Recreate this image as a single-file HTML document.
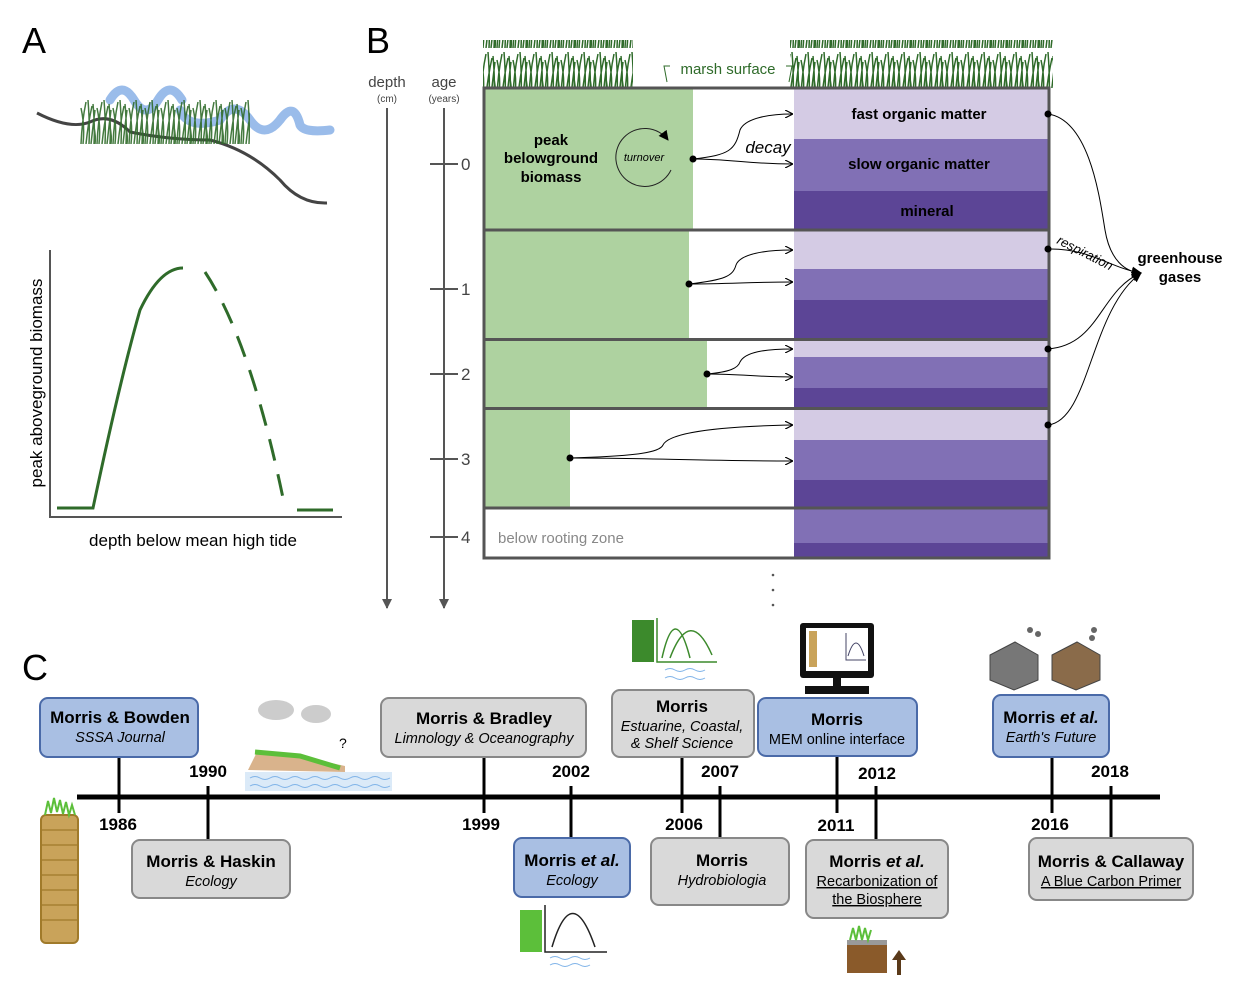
<!DOCTYPE html>
<html><head><meta charset="utf-8"><style>
html,body{margin:0;padding:0;background:#fff}
svg{display:block;font-family:"Liberation Sans",Arial,sans-serif}
</style></head><body>
<svg width="1237" height="988" viewBox="0 0 1237 988" xmlns="http://www.w3.org/2000/svg">
<defs>
<marker id="ah" markerWidth="8" markerHeight="8" refX="7" refY="4" orient="auto" markerUnits="userSpaceOnUse"><path d="M0,0 L8,4 L0,8" fill="none" stroke="#000" stroke-width="1.2"/></marker>
<marker id="ahf" markerWidth="10" markerHeight="10" refX="9" refY="5" orient="auto" markerUnits="userSpaceOnUse"><path d="M0,0 L10,5 L0,10 z" fill="#000"/></marker>
<marker id="ahg" markerWidth="10" markerHeight="10" refX="9" refY="5" orient="auto" markerUnits="userSpaceOnUse"><path d="M0,0 L10,5 L0,10 z" fill="#555"/></marker>
<pattern id="grass" width="16" height="48" patternUnits="userSpaceOnUse"><path d="M1,48 Q2,25 6,6 M3,48 Q5,30 1,12 M6,48 Q8,28 12,10 M9,48 Q10,30 8,4 M11,48 Q13,30 15,14 M14,48 Q15,30 13,8 M15,48 Q16,35 19,18" stroke="#2f6b2a" stroke-width="1.5" fill="none"/></pattern>
</defs>

<!-- Panel A -->
<text x="22" y="53" font-size="36">A</text>
<path d="M110,100 q12,-20 24,0 t24,0 t24,0 M180,110 q8,20 40,10 q14,-22 30,0 q14,20 30,0 q14,-20 20,5 q4,8 30,5" stroke="#8fb5e8" stroke-width="9" fill="none" stroke-linecap="round" opacity="0.9"/>
<path d="M37,113 Q70,130 90,122 Q110,112 130,132 Q170,140 210,140 Q250,150 280,180 Q300,204 327,203" stroke="#444" stroke-width="3" fill="none"/>
<rect x="80" y="97" width="170" height="48" fill="url(#grass)" opacity="0.9"/>
<path d="M50,250 L50,517 L342,517" stroke="#555" stroke-width="2" fill="none"/>
<path d="M57,508 L93,508 Q120,380 140,310 Q160,268 183,268" stroke="#2f6b2a" stroke-width="3" fill="none"/>
<path d="M205,272 Q250,340 283,498" stroke="#2f6b2a" stroke-width="3" fill="none" stroke-dasharray="22,14"/>
<path d="M297,510 L333,510" stroke="#2f6b2a" stroke-width="3"/>
<text transform="translate(42,383) rotate(-90)" font-size="17" text-anchor="middle">peak aboveground biomass</text>
<text x="193" y="546" font-size="17" text-anchor="middle">depth below mean high tide</text>

<!-- Panel B -->
<text x="366" y="53" font-size="36">B</text>
<text x="387" y="87" font-size="15" text-anchor="middle" fill="#444">depth</text>
<text x="387" y="102" font-size="10" text-anchor="middle" fill="#444">(cm)</text>
<text x="444" y="87" font-size="15" text-anchor="middle" fill="#444">age</text>
<text x="444" y="102" font-size="10" text-anchor="middle" fill="#444">(years)</text>
<line x1="387" y1="108" x2="387" y2="608" stroke="#555" stroke-width="2" marker-end="url(#ahg)"/>
<line x1="444" y1="108" x2="444" y2="608" stroke="#555" stroke-width="2" marker-end="url(#ahg)"/>
<g stroke="#555" stroke-width="2">
<line x1="430" y1="164" x2="458" y2="164"/><line x1="430" y1="289" x2="458" y2="289"/><line x1="430" y1="374" x2="458" y2="374"/><line x1="430" y1="459" x2="458" y2="459"/><line x1="430" y1="537" x2="458" y2="537"/>
</g>
<g font-size="17" fill="#444"><text x="461" y="170">0</text><text x="461" y="295">1</text><text x="461" y="380">2</text><text x="461" y="465">3</text><text x="461" y="543">4</text></g>

<rect x="483" y="40" width="150" height="48" fill="url(#grass)"/>
<rect x="790" y="40" width="263" height="48" fill="url(#grass)"/>
<text x="728" y="74" font-size="15" fill="#2f6b2a" text-anchor="middle">marsh surface</text>
<path d="M670,66 L664,66 L667,82 M786,66 L792,66 L789,82" stroke="#2f6b2a" fill="none"/>

<!-- rows -->
<rect x="483" y="87" width="567" height="472" fill="#fff"/>
<rect x="485" y="89" width="208" height="140" fill="#aed2a0"/>
<rect x="794" y="89" width="254" height="50" fill="#d4cbe4"/>
<rect x="794" y="139" width="254" height="52" fill="#8170b5"/>
<rect x="794" y="191" width="254" height="39" fill="#5c4596"/>
<rect x="485" y="231" width="204" height="107" fill="#aed2a0"/>
<rect x="794" y="231" width="254" height="38" fill="#d4cbe4"/>
<rect x="794" y="269" width="254" height="31" fill="#8170b5"/>
<rect x="794" y="300" width="254" height="38" fill="#5c4596"/>
<rect x="485" y="341" width="222" height="66" fill="#aed2a0"/>
<rect x="794" y="341" width="254" height="16" fill="#d4cbe4"/>
<rect x="794" y="357" width="254" height="31" fill="#8170b5"/>
<rect x="794" y="388" width="254" height="19" fill="#5c4596"/>
<rect x="485" y="410" width="85" height="97" fill="#aed2a0"/>
<rect x="794" y="410" width="254" height="30" fill="#d4cbe4"/>
<rect x="794" y="440" width="254" height="40" fill="#8170b5"/>
<rect x="794" y="480" width="254" height="27" fill="#5c4596"/>
<rect x="794" y="509" width="254" height="34" fill="#8170b5"/>
<rect x="794" y="543" width="254" height="15" fill="#5c4596"/>
<g stroke="#555" stroke-width="3" fill="none">
<rect x="484" y="88" width="565" height="470"/>
<line x1="484" y1="230" x2="1049" y2="230"/>
<line x1="484" y1="339.5" x2="1049" y2="339.5"/>
<line x1="484" y1="408.5" x2="1049" y2="408.5"/>
<line x1="484" y1="508" x2="1049" y2="508"/>
</g>
<g font-weight="bold" font-size="15" text-anchor="middle">
<text x="551" y="145">peak</text><text x="551" y="163">belowground</text><text x="551" y="182">biomass</text>
<text x="919" y="119">fast organic matter</text>
<text x="919" y="169">slow organic matter</text>
<text x="927" y="216">mineral</text>
</g>
<text x="644" y="161" font-size="11" font-style="italic" text-anchor="middle">turnover</text>
<path d="M671,170 A29,29 0 1 1 668,140" stroke="#222" fill="none" marker-end="url(#ahf)"/>
<text x="768" y="153" font-size="17" font-style="italic" text-anchor="middle">decay</text>
<text x="498" y="543" font-size="15" fill="#888">below rooting zone</text>
<g fill="#555"><circle cx="773" cy="575" r="1.3"/><circle cx="773" cy="590" r="1.3"/><circle cx="773" cy="605" r="1.3"/></g>

<g stroke="#000" stroke-width="1" fill="none">
<path d="M693,159 C730,155 735,150 740,130 C745,118 770,114 792,114" marker-end="url(#ah)"/>
<path d="M693,159 C730,159 750,164 792,164" marker-end="url(#ah)"/>
<path d="M689,284 C725,280 733,276 736,265 C740,254 765,250 792,250" marker-end="url(#ah)"/>
<path d="M689,284 C730,284 750,282 792,282" marker-end="url(#ah)"/>
<path d="M707,374 C730,372 738,368 740,362 C745,352 765,349 792,349" marker-end="url(#ah)"/>
<path d="M707,374 C740,374 760,377 792,377" marker-end="url(#ah)"/>
<path d="M570,458 C640,456 660,452 663,445 C670,430 740,426 792,425" marker-end="url(#ah)"/>
<path d="M570,458 C650,458 700,461 792,461" marker-end="url(#ah)"/>
<path d="M1048,114 C1090,120 1100,200 1105,230 C1110,260 1125,272 1141,273" marker-end="url(#ahf)"/>
<path d="M1048,249 C1090,248 1110,268 1141,273" marker-end="url(#ahf)"/>
<path d="M1048,349 C1100,345 1100,290 1141,273" marker-end="url(#ahf)"/>
<path d="M1048,425 C1090,420 1090,310 1141,273" marker-end="url(#ahf)"/>
</g>
<g fill="#000">
<circle cx="693" cy="159" r="3.5"/><circle cx="689" cy="284" r="3.5"/><circle cx="707" cy="374" r="3.5"/><circle cx="570" cy="458" r="3.5"/>
<circle cx="1048" cy="114" r="3.5"/><circle cx="1048" cy="249" r="3.5"/><circle cx="1048" cy="349" r="3.5"/><circle cx="1048" cy="425" r="3.5"/>
</g>
<text transform="translate(1056,243) rotate(27)" font-size="13" font-style="italic">respiration</text>
<text x="1180" y="263" font-size="15" font-weight="bold" text-anchor="middle">greenhouse</text>
<text x="1180" y="282" font-size="15" font-weight="bold" text-anchor="middle">gases</text>

<!-- Panel C -->
<text x="22" y="680" font-size="36">C</text>
<line x1="77" y1="797" x2="1160" y2="797" stroke="#000" stroke-width="5"/>
<g stroke="#000" stroke-width="3">
<line x1="119" y1="757" x2="119" y2="813"/><line x1="208" y1="786" x2="208" y2="840"/>
<line x1="484" y1="757" x2="484" y2="813"/><line x1="571" y1="786" x2="571" y2="838"/>
<line x1="682" y1="757" x2="682" y2="813"/><line x1="720" y1="786" x2="720" y2="838"/>
<line x1="837" y1="756" x2="837" y2="813"/><line x1="876" y1="786" x2="876" y2="840"/>
<line x1="1052" y1="757" x2="1052" y2="813"/><line x1="1111" y1="786" x2="1111" y2="838"/>
</g>
<g font-weight="bold" font-size="17" text-anchor="middle">
<text x="118" y="830">1986</text><text x="208" y="777">1990</text><text x="481" y="830">1999</text>
<text x="571" y="777">2002</text><text x="684" y="830">2006</text><text x="720" y="777">2007</text>
<text x="836" y="831">2011</text><text x="877" y="779">2012</text><text x="1050" y="830">2016</text><text x="1110" y="777">2018</text>
</g>
<g stroke-width="2">
<rect x="40" y="698" width="158" height="59" rx="8" fill="#a9bfe3" stroke="#4a6aa8"/>
<rect x="132" y="840" width="158" height="58" rx="8" fill="#d9d9d9" stroke="#888"/>
<rect x="381" y="698" width="205" height="59" rx="8" fill="#d9d9d9" stroke="#888"/>
<rect x="514" y="838" width="116" height="59" rx="8" fill="#a9bfe3" stroke="#4a6aa8"/>
<rect x="612" y="690" width="142" height="67" rx="8" fill="#d9d9d9" stroke="#888"/>
<rect x="651" y="838" width="138" height="67" rx="8" fill="#d9d9d9" stroke="#888"/>
<rect x="758" y="698" width="159" height="58" rx="8" fill="#a9bfe3" stroke="#4a6aa8"/>
<rect x="806" y="840" width="142" height="78" rx="8" fill="#d9d9d9" stroke="#888"/>
<rect x="993" y="695" width="116" height="62" rx="8" fill="#a9bfe3" stroke="#4a6aa8"/>
<rect x="1029" y="838" width="164" height="62" rx="8" fill="#d9d9d9" stroke="#888"/>
</g>
<g text-anchor="middle" font-size="14.5">
<text x="120" y="723" font-weight="bold" font-size="17">Morris &amp; Bowden</text><text x="120" y="742" font-style="italic">SSSA Journal</text>
<text x="211" y="867" font-weight="bold" font-size="17">Morris &amp; Haskin</text><text x="211" y="886" font-style="italic">Ecology</text>
<text x="484" y="724" font-weight="bold" font-size="17">Morris &amp; Bradley</text><text x="484" y="743" font-style="italic">Limnology &amp; Oceanography</text>
<text x="572" y="866" font-weight="bold" font-size="17">Morris <tspan font-style="italic">et al.</tspan></text><text x="572" y="885" font-style="italic">Ecology</text>
<text x="682" y="712" font-weight="bold" font-size="17">Morris</text><text x="682" y="731" font-style="italic">Estuarine, Coastal,</text><text x="682" y="748" font-style="italic">&amp; Shelf Science</text>
<text x="722" y="866" font-weight="bold" font-size="17">Morris</text><text x="722" y="885" font-style="italic">Hydrobiologia</text>
<text x="837" y="725" font-weight="bold" font-size="17">Morris</text><text x="837" y="744">MEM online interface</text>
<text x="877" y="867" font-weight="bold" font-size="17">Morris <tspan font-style="italic">et al.</tspan></text><text x="877" y="886" text-decoration="underline">Recarbonization of</text><text x="877" y="904" text-decoration="underline">the Biosphere</text>
<text x="1051" y="723" font-weight="bold" font-size="17">Morris <tspan font-style="italic">et al.</tspan></text><text x="1051" y="742" font-style="italic">Earth's Future</text>
<text x="1111" y="867" font-weight="bold" font-size="17">Morris &amp; Callaway</text><text x="1111" y="886" text-decoration="underline">A Blue Carbon Primer</text>
</g>

<!-- icons -->
<rect x="41" y="815" width="37" height="128" rx="5" fill="#c9a35a" stroke="#a07a2a" stroke-width="2"/>
<g stroke="#a07a2a" stroke-width="1.2">
<line x1="42" y1="830" x2="77" y2="830"/><line x1="42" y1="845" x2="77" y2="845"/><line x1="42" y1="860" x2="77" y2="860"/><line x1="42" y1="875" x2="77" y2="875"/><line x1="42" y1="890" x2="77" y2="890"/><line x1="42" y1="905" x2="77" y2="905"/><line x1="42" y1="920" x2="77" y2="920"/></g>
<path d="M45,815 l3,-14 l3,12 l3,-15 l3,14 l3,-12 l3,14 l3,-12 l3,13 l3,-10 l3,10" stroke="#5cbf3a" stroke-width="2" fill="none"/>
<ellipse cx="276" cy="710" rx="18" ry="10" fill="#ccc"/><ellipse cx="316" cy="714" rx="15" ry="9" fill="#ccc"/>
<text x="339" y="748" font-size="14">?</text>
<path d="M248,770 L258,750 L300,756 L345,766 L345,772 Z" fill="#d9b38c"/>
<path d="M255,752 L300,756 L340,768" stroke="#5cbf3a" stroke-width="5" fill="none"/>
<rect x="245" y="772" width="147" height="19" fill="#dbeaf8"/>
<path d="M250,778 q5,-3 10,0 t10,0 t10,0 t10,0 t10,0 t10,0 t10,0 t10,0 t10,0 t10,0 t10,0 t10,0 t10,0 t10,0 M250,786 q5,-3 10,0 t10,0 t10,0 t10,0 t10,0 t10,0 t10,0 t10,0 t10,0 t10,0 t10,0 t10,0 t10,0 t10,0" stroke="#7fb3e8" fill="none"/>
<rect x="520" y="910" width="22" height="42" fill="#5cbf3a"/>
<path d="M545,905 L545,952 L607,952 M552,947 Q572,880 595,947" stroke="#222" stroke-width="1.5" fill="none"/>
<path d="M550,958 q5,-3 10,0 t10,0 t10,0 t10,0 M550,965 q5,-3 10,0 t10,0 t10,0 t10,0" stroke="#7fb3e8" fill="none"/>
<rect x="632" y="620" width="22" height="42" fill="#3c8a2c"/>
<path d="M657,618 L657,662 L717,662 M662,658 Q675,600 690,658 M670,658 Q690,605 712,655" stroke="#3c8a2c" stroke-width="1.5" fill="none"/>
<path d="M665,670 q5,-3 10,0 t10,0 t10,0 t10,0 M665,678 q5,-3 10,0 t10,0 t10,0 t10,0" stroke="#7fb3e8" fill="none"/>
<rect x="800" y="623" width="74" height="55" rx="3" fill="#111"/>
<rect x="806" y="628" width="62" height="43" fill="#fff"/>
<rect x="809" y="631" width="8" height="36" fill="#c9a35a"/>
<path d="M846,633 L846,660 L866,660 M848,656 Q856,630 864,656" stroke="#446" fill="none"/>
<rect x="833" y="678" width="8" height="8" fill="#111"/><rect x="805" y="686" width="64" height="8" fill="#111"/>
<g fill="#666"><circle cx="1030" cy="630" r="3"/><circle cx="1038" cy="634" r="3"/><circle cx="1094" cy="630" r="3"/><circle cx="1092" cy="638" r="3"/></g>
<path d="M990,655 L1015,642 L1038,655 L1038,680 L1014,690 L990,680 Z" fill="#777" stroke="#444"/>
<path d="M1052,655 L1077,642 L1100,655 L1100,680 L1076,690 L1052,680 Z" fill="#8a6b4a" stroke="#444"/>
<rect x="847" y="943" width="40" height="30" fill="#8a5a2a"/>
<rect x="847" y="940" width="40" height="5" fill="#999"/>
<path d="M850,940 l3,-12 l3,12 l3,-14 l3,14 l3,-12 l3,12 l3,-10" stroke="#5cbf3a" stroke-width="2" fill="none"/>
<path d="M897,975 L897,960 L892,960 L899,950 L906,960 L901,960 L901,975 Z" fill="#5a3a1a"/>
</svg>
</body></html>
